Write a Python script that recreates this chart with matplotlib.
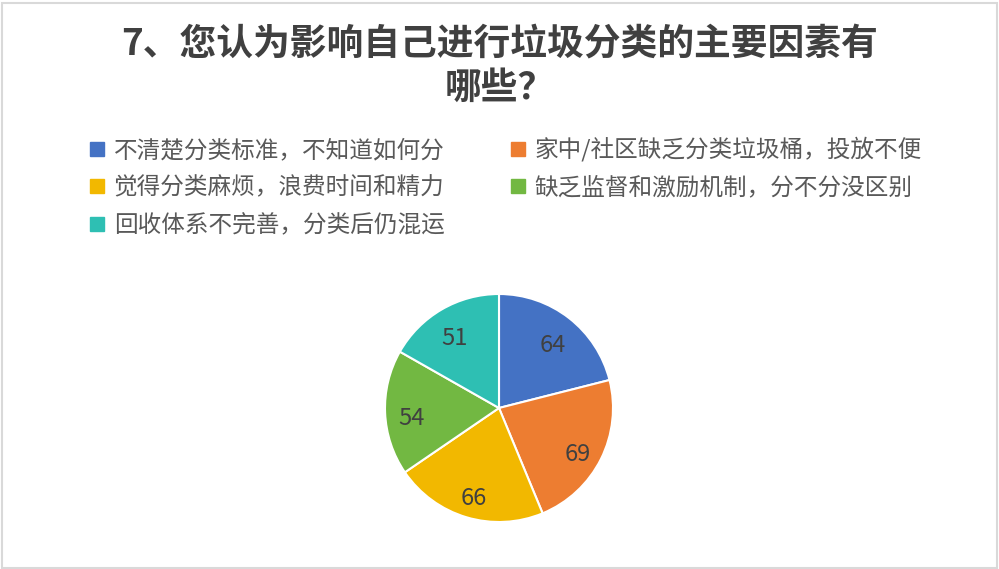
import matplotlib
matplotlib.use("Agg")
import matplotlib.pyplot as plt
from matplotlib.lines import Line2D
from matplotlib.patches import Rectangle

plt.rcParams['font.family'] = ['Noto Sans CJK SC', 'DejaVu Sans']

title_line1 = "7、您认为影响自己进行垃圾分类的主要因素有"
title_line2 = "哪些？"
categories = [
    "不清楚分类标准，不知道如何分",
    "家中/社区缺乏分类垃圾桶，投放不便",
    "觉得分类麻烦，浪费时间和精力",
    "缺乏监督和激励机制，分不分没区别",
    "回收体系不完善，分类后仍混运",
]
values = [64, 69, 66, 54, 51]
colors = ["#4472C4", "#ED7D31", "#F2B800", "#72B842", "#2EBFB3"]

W, H = 999, 569
fig = plt.figure(figsize=(W / 100, H / 100), dpi=100)
fig.patch.set_facecolor("white")

# border
fig.add_artist(Rectangle((1.5 / W, 1.5 / H), 995 / W, 565 / H, transform=fig.transFigure,
                         fill=False, edgecolor="#D9D9D9", linewidth=1.5))

# title
fig.text(0.5, 1 - 44 / H, title_line1, ha="center", va="center", fontsize=26.5,
         fontweight="bold", color="#404040")
fig.text(0.5, 1 - 88 / H, title_line2, ha="center", va="center", fontsize=26.5,
         fontweight="bold", color="#404040")

# pie
cx, cy, r = 499, 408, 114
ax = fig.add_axes([(cx - r) / W, (H - cy - r) / H, 2 * r / W, 2 * r / H])
wedges, texts, autotexts = ax.pie(
    values, colors=colors, startangle=90, counterclock=False, radius=1,
    autopct=lambda p: f"{round(p * sum(values) / 100):d}", pctdistance=0.77,
    wedgeprops=dict(edgecolor="white", linewidth=1.5),
    textprops=dict(fontsize=17, color="#404040"))
for t in autotexts:
    x, y = t.get_position()
    t.set_position((x, y - 0.06))
ax.set_xlim(-1, 1)
ax.set_ylim(-1, 1)
ax.set_aspect("auto")
ax.axis("off")

# legend (row-wise order)
handles = [Line2D([0], [0], marker="s", linestyle="none", markersize=9.5,
                  markerfacecolor=c, markeredgecolor=c) for c in colors]
order = [0, 2, 4, 1, 3]
leg = fig.legend([handles[i] for i in order], [categories[i] for i in order],
                 loc="upper left", bbox_to_anchor=(90 / W, 1 - 137 / H), ncol=2,
                 frameon=False, fontsize=17, borderpad=0, borderaxespad=0,
                 handlelength=0.6, handletextpad=0.4, columnspacing=2.8,
                 labelspacing=0.62, labelcolor="#595959")

fig.savefig("out.png", dpi=100, facecolor="white")
